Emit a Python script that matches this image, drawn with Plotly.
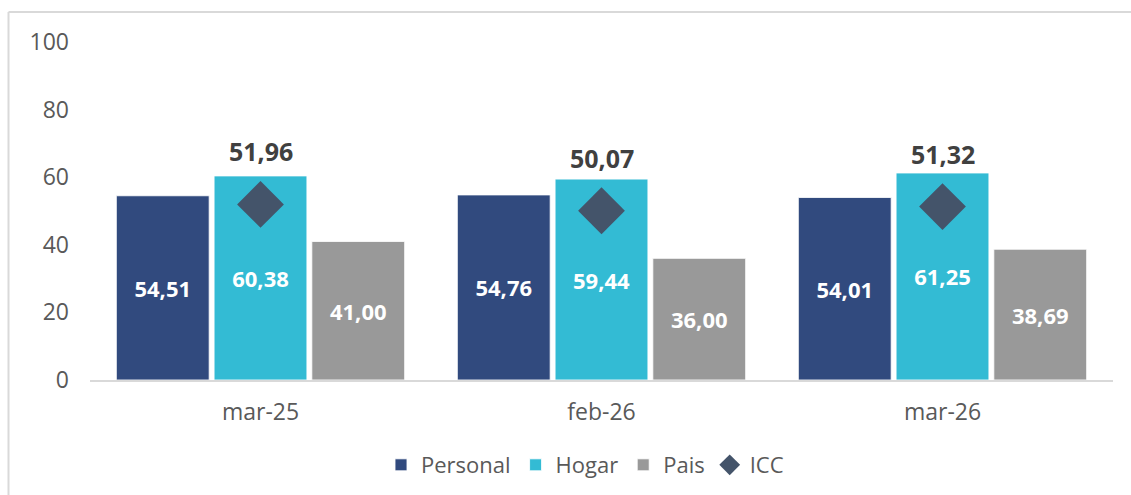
import plotly.graph_objects as go

categories = ["mar-25", "feb-26", "mar-26"]
personal = [54.51, 54.76, 54.01]
hogar = [60.38, 59.44, 61.25]
pais = [41.00, 36.00, 38.69]
icc = [51.96, 50.07, 51.32]
y_ticks = [0, 20, 40, 60, 80, 100]

FONT = "Open Sans"
W, H = 1131, 495
L, R, T, B = 90, 18, 42, 115
pw, ph = W - L - R, H - T - B

fig = go.Figure()
bar_line = dict(color="rgba(255,255,255,0.85)", width=1)
for name, vals, col in [("Personal", personal, "#314A7E"),
                        ("Hogar", hogar, "#33BBD4"),
                        ("Pais", pais, "#999999")]:
    fig.add_trace(go.Bar(
        x=categories, y=vals, name=name,
        marker=dict(color=col, line=bar_line),
        texttemplate="%{y:.2f}", textposition="inside",
        insidetextanchor="middle",
        textfont=dict(family=FONT, size=22, color="white", weight="bold"),
        cliponaxis=False,
    ))

fig.add_trace(go.Scatter(
    x=categories, y=icc, name="ICC", mode="markers",
    marker=dict(symbol="diamond", size=36, color="#44546A"),
))

for c, v in zip(categories, icc):
    fig.add_annotation(x=c, y=v, text=f"{v:.2f}".replace(".", ","),
                       showarrow=False, yshift=53, yanchor="middle",
                       font=dict(family=FONT, size=25, color="#404040", weight="bold"))

# outer frame (left and top edges)
x_left = (8.5 - L) / pw
y_top = (H - B - 12) / ph
fig.add_shape(type="line", xref="paper", yref="paper", x0=x_left, x1=x_left,
              y0=y_top, y1=-(B) / ph, line=dict(color="#D9D9D9", width=2))
fig.add_shape(type="line", xref="paper", yref="paper", x0=x_left, x1=(W - L) / pw,
              y0=y_top, y1=y_top, line=dict(color="#D9D9D9", width=2))

fig.update_layout(
    width=W, height=H,
    margin=dict(l=L, r=R, t=T, b=B, autoexpand=False),
    separators=",.",
    barmode="group", bargap=0.14, bargroupgap=0.05,
    plot_bgcolor="white", paper_bgcolor="white",
    font=dict(family=FONT, size=22, color="#595959"),
    legend=dict(orientation="h", x=(585 - L) / pw, xanchor="center",
                y=-(465 - (H - B)) / ph, yanchor="middle",
                font=dict(family=FONT, size=22, color="#595959"),
                itemwidth=30, traceorder="normal"),
    showlegend=True,
)
fig.update_xaxes(showline=True, linecolor="#D9D9D9", linewidth=2,
                 ticks="", showgrid=False, ticklabelstandoff=10,
                 automargin=False,
                 tickfont=dict(family=FONT, size=23, color="#595959"))
fig.update_yaxes(range=[0, 100], tickvals=y_ticks, showgrid=False,
                 zeroline=False, showline=False, ticklabelstandoff=20,
                 automargin=False,
                 tickfont=dict(family=FONT, size=23, color="#595959"))

fig.write_html("out.html", config={"displayModeBar": False},
               post_script="document.body.style.margin='0';document.body.style.overflow='hidden';")
